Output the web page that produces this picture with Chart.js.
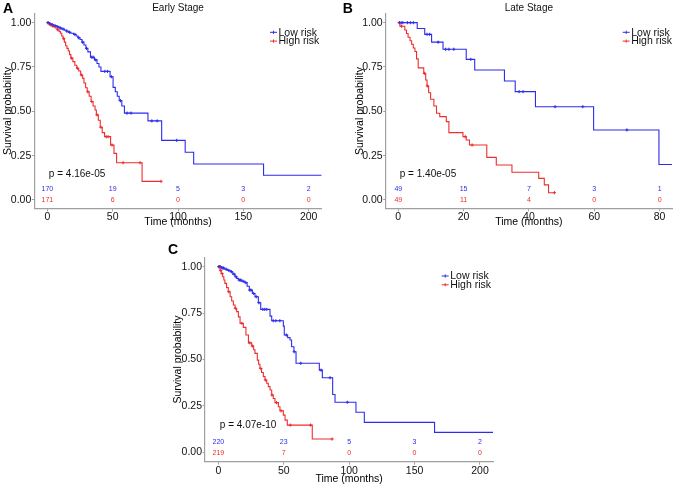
<!DOCTYPE html>
<html>
<head>
<meta charset="utf-8">
<script src="https://cdn.jsdelivr.net/npm/chart.js@4.4.0/dist/chart.umd.min.js"></script>
<style>
body { margin: 0; background: #fff; }
#wrap { position: relative; width: 677px; height: 485px; }
canvas { position: absolute; }
</style>
</head>
<body>
<div id="wrap">
  <canvas id="panelA" width="340" height="230" style="left:0;top:0"></canvas>
  <canvas id="panelB" width="337" height="230" style="left:340px;top:0"></canvas>
  <canvas id="panelC" width="350" height="245" style="left:160px;top:240px"></canvas>
</div>
<script>
// ---- data ----
const survTicks = [0, 0.25, 0.5, 0.75, 1];

// A: early stage
const earlyTicks = [0, 50, 100, 150, 200];
const earlyLowTime = [0, 1.5, 3, 5, 7.5, 9, 11, 13, 14.5, 16, 18, 20, 22, 23.5, 25, 26.5, 28, 29.5, 31, 33, 36, 38, 39.5, 41, 48, 50.3, 52, 53.5, 55, 57, 59, 77, 87.5, 105.5, 112, 165.5, 210];
const earlyLowSurv = [1, 0.994, 0.988, 0.982, 0.976, 0.97, 0.964, 0.958, 0.952, 0.946, 0.94, 0.934, 0.925, 0.915, 0.905, 0.89, 0.874, 0.855, 0.835, 0.805, 0.79, 0.77, 0.75, 0.725, 0.695, 0.635, 0.61, 0.585, 0.56, 0.53, 0.49, 0.446, 0.336, 0.269, 0.203, 0.139, 0.139];
const earlyLowCensor = [0.5, 2, 4, 6, 8, 10, 12, 15, 17, 21, 24, 27, 30, 34, 35, 37, 44, 46, 49, 56, 61, 64, 80, 84, 99];
const earlyHighTime = [0, 1, 2, 3.5, 5, 6, 7.5, 9, 10, 11, 12, 13, 14, 15, 16, 17, 18, 19.5, 21, 22.5, 24, 25.5, 27, 28, 29.3, 30.5, 32, 33.5, 35, 36.5, 37.5, 39, 40.5, 42, 43.8, 48.4, 51, 53, 72.5, 87];
const earlyHighSurv = [1, 0.994, 0.988, 0.982, 0.976, 0.97, 0.96, 0.95, 0.94, 0.925, 0.91, 0.89, 0.87, 0.855, 0.84, 0.82, 0.8, 0.78, 0.76, 0.743, 0.727, 0.705, 0.686, 0.66, 0.633, 0.61, 0.585, 0.555, 0.53, 0.507, 0.48, 0.45, 0.41, 0.38, 0.357, 0.31, 0.263, 0.21, 0.105, 0.105];
const earlyHighCensor = [0.5, 1.5, 2.5, 4, 8, 12.5, 18.5, 23, 26, 31, 34, 38, 41, 45, 46.5, 49.5, 58, 71, 87];
const earlyRiskLow = [170, 19, 5, 3, 2];
const earlyRiskHigh = [171, 6, 0, 0, 0];

// B: late stage
const lateTicks = [0, 20, 40, 60, 80];
const lateLowTime = [0, 5.8, 8.1, 10.2, 13.7, 20.8, 23.4, 32.5, 35.8, 42, 59.8, 79.8, 84];
const lateLowSurv = [1, 0.967, 0.934, 0.89, 0.85, 0.793, 0.733, 0.671, 0.611, 0.526, 0.395, 0.2, 0.2];
const lateLowCensor = [0.4, 0.9, 1.4, 2.8, 3.7, 4.6, 8.8, 9.6, 12.2, 14.5, 15.5, 17, 22.2, 37, 38.2, 48, 56.5, 70];
const lateHighTime = [0, 0.5, 2, 2.5, 3, 3.6, 4.1, 4.6, 5.1, 5.6, 6.1, 7.8, 8.4, 8.8, 9.3, 9.9, 10.9, 11.7, 12.7, 14.7, 15.5, 19.8, 20.8, 21.8, 27.1, 30, 34.8, 43, 44.7, 46, 47.8];
const lateHighSurv = [1, 0.98, 0.959, 0.939, 0.918, 0.898, 0.878, 0.857, 0.837, 0.796, 0.745, 0.714, 0.677, 0.643, 0.605, 0.568, 0.53, 0.489, 0.47, 0.442, 0.38, 0.357, 0.338, 0.31, 0.24, 0.197, 0.156, 0.122, 0.085, 0.041, 0.041];
const lateHighCensor = [0.3, 1, 8, 8.9, 20.5, 22.6, 47.8];
const lateRiskLow = [49, 15, 7, 3, 1];
const lateRiskHigh = [49, 11, 4, 0, 0];

// C: all stages
const allTicks = [0, 50, 100, 150, 200];
const allLowTime = [0, 2.5, 5, 7, 9, 11, 12.7, 14, 15.3, 18, 20.4, 22, 23.7, 26, 28, 30.6, 32.4, 39.5, 40.8, 49.7, 50.4, 53, 54.8, 56, 57.8, 59.4, 77.2, 79.5, 87.4, 89.2, 105.2, 111.6, 165.3, 210];
const allLowSurv = [1, 0.993, 0.986, 0.98, 0.973, 0.96, 0.946, 0.937, 0.928, 0.921, 0.914, 0.895, 0.874, 0.856, 0.838, 0.806, 0.77, 0.734, 0.709, 0.68, 0.632, 0.618, 0.605, 0.569, 0.542, 0.48, 0.443, 0.402, 0.312, 0.27, 0.216, 0.162, 0.108, 0.108];
const allLowCensor = [0.5, 1.5, 3, 4, 6, 8, 10, 12, 13.5, 16, 17, 19, 21, 24, 25, 27, 29, 31, 34, 35.5, 37, 42, 44, 47, 52, 58, 63, 78.5, 85.4, 98.6];
const allHighTime = [0, 1.3, 2.2, 3.3, 4.2, 5, 6.3, 7.6, 9, 10.2, 11.5, 12.8, 14, 15.3, 16.6, 19.1, 21.1, 23, 25.5, 27, 28, 29.8, 30.8, 31.8, 33, 34.4, 35.7, 37, 38.2, 39.5, 40.8, 42, 43.3, 45.9, 47.1, 49.7, 51, 52.7, 71.8, 87];
const allHighSurv = [1, 0.98, 0.963, 0.946, 0.928, 0.91, 0.887, 0.865, 0.838, 0.815, 0.794, 0.776, 0.758, 0.73, 0.695, 0.673, 0.632, 0.59, 0.573, 0.553, 0.533, 0.497, 0.475, 0.452, 0.43, 0.408, 0.39, 0.372, 0.354, 0.336, 0.309, 0.29, 0.268, 0.246, 0.224, 0.201, 0.174, 0.147, 0.072, 0.072];
const allHighCensor = [0.4, 0.8, 1.8, 2.8, 8, 13, 18, 24, 26, 32.5, 36, 41, 44.5, 48, 55, 70.5, 87];
const allRiskLow = [220, 23, 5, 3, 2];
const allRiskHigh = [219, 7, 0, 0, 0];

const BLUE = 'rgb(45,45,235)';
const RED = 'rgb(238,45,45)';
const AXIS = '#a0a0a0';
const FONT = '"Liberation Sans", Arial, sans-serif';

function survAt(t, times, surv) {
    let s = surv[0];
    for (let i = 0; i < times.length; i++) {
        if (times[i] <= t) s = surv[i];
    }
    return s;
}

function kmLine(times, surv, color) {
    return {
        data: times.map((t, i) => ({ x: t, y: surv[i] })),
        showLine: true,
        stepped: true,
        borderColor: color,
        borderWidth: 1.1,
        pointRadius: 0
    };
}

function censorPts(cens, times, surv, color) {
    return {
        data: cens.map(t => ({ x: t, y: survAt(t, times, surv) })),
        showLine: false,
        pointStyle: 'cross',
        pointRadius: 1.6,
        borderColor: color,
        borderWidth: 1
    };
}

const textPlugin = {
    id: 'panelText',
    afterDraw(chart, args, o) {
        const ctx = chart.ctx;
        const xs = chart.scales.x, ys = chart.scales.y, area = chart.chartArea;
        ctx.save();
        ctx.fillStyle = '#000';
        ctx.textBaseline = 'middle';

        ctx.font = 'bold 14px ' + FONT;
        ctx.textAlign = 'left';
        ctx.fillText(o.letter, o.letterX, o.letterY);

        if (o.title) {
            ctx.font = '10px ' + FONT;
            ctx.textAlign = 'center';
            ctx.fillStyle = '#111';
            ctx.fillText(o.title, (area.left + area.right) / 2, 8);
        }

        // p-value
        ctx.font = '10px ' + FONT;
        ctx.textAlign = 'left';
        ctx.fillStyle = '#111';
        ctx.fillText(o.pval, xs.getPixelForValue(0) + 1.5, ys.getPixelForValue(0.145));

        // numbers at risk
        ctx.font = '7px ' + FONT;
        ctx.textAlign = 'center';
        o.riskTimes.forEach((t, i) => {
            const px = xs.getPixelForValue(t);
            ctx.fillStyle = BLUE;
            ctx.fillText(String(o.riskLow[i]), px, ys.getPixelForValue(0) + o.riskLowOff);
            ctx.fillStyle = RED;
            ctx.fillText(String(o.riskHigh[i]), px, ys.getPixelForValue(0) + o.riskHighOff);
        });

        // legend
        [['Low risk', BLUE, o.legY], ['High risk', RED, o.legY + 8.8]].forEach(([label, color, ly]) => {
            ctx.strokeStyle = color;
            ctx.lineWidth = 1;
            ctx.beginPath();
            ctx.moveTo(o.legX, ly); ctx.lineTo(o.legX + 7, ly);
            ctx.moveTo(o.legX + 3.5, ly - 1.6); ctx.lineTo(o.legX + 3.5, ly + 1.6);
            ctx.stroke();
            ctx.fillStyle = '#111';
            ctx.font = '10.5px ' + FONT;
            ctx.textAlign = 'left';
            ctx.fillText(label, o.legX + 8.5, ly + 0.5);
        });
        ctx.restore();
    }
};

function makePanel(id, p) {
    const tickFont = { family: FONT, size: 10.5 };
    const titleFont = { family: FONT, size: 10.5 };
    new Chart(document.getElementById(id), {
        type: 'scatter',
        data: {
            datasets: [
                kmLine(p.lowTime, p.lowSurv, BLUE),
                kmLine(p.highTime, p.highSurv, RED),
                censorPts(p.lowCensor, p.lowTime, p.lowSurv, BLUE),
                censorPts(p.highCensor, p.highTime, p.highSurv, RED)
            ]
        },
        options: {
            responsive: false,
            animation: false,
            devicePixelRatio: 1,
            layout: { padding: p.pad },
            plugins: {
                legend: { display: false },
                tooltip: { enabled: false },
                panelText: p.text
            },
            scales: {
                x: {
                    type: 'linear',
                    min: p.xMin,
                    max: p.xMax,
                    afterBuildTicks: s => { s.ticks = p.xTicks.map(v => ({ value: v })); },
                    afterFit: s => { s.height = p.xHeight; },
                    border: { color: AXIS, width: 1.2 },
                    grid: { drawOnChartArea: false, color: AXIS, tickLength: 3 },
                    ticks: { font: tickFont, color: '#111', padding: 0, maxRotation: 0 },
                    title: { display: true, text: 'Time (months)', font: titleFont, color: '#000', padding: { top: 0, bottom: p.xTitlePad } }
                },
                y: {
                    type: 'linear',
                    min: p.yMin,
                    max: 1.05,
                    afterBuildTicks: s => { s.ticks = survTicks.map(v => ({ value: v })); },
                    afterFit: s => { s.width = p.yWidth; },
                    border: { color: AXIS, width: 1.2 },
                    grid: { drawOnChartArea: false, color: AXIS, tickLength: 2.5 },
                    ticks: { font: tickFont, color: '#111', padding: 0.5, callback: v => v.toFixed(2) },
                    title: { display: true, text: 'Survival probability', font: titleFont, color: '#000', padding: { top: p.yTitlePad, bottom: 0 } }
                }
            }
        },
        plugins: [textPlugin]
    });
}

makePanel('panelA', {
    lowTime: earlyLowTime, lowSurv: earlyLowSurv, lowCensor: earlyLowCensor,
    highTime: earlyHighTime, highSurv: earlyHighSurv, highCensor: earlyHighCensor,
    xTicks: earlyTicks, xMin: -10, xMax: 210, yMin: -0.047,
    pad: { left: 0, right: 18.3, top: 13.8, bottom: 0 },
    xHeight: 21.7, yWidth: 34.3, xTitlePad: 1.5, yTitlePad: 2,
    text: {
        letter: 'A', letterX: 3, letterY: 9, title: 'Early Stage', pval: 'p = 4.16e-05',
        riskTimes: earlyTicks, riskLow: earlyRiskLow, riskHigh: earlyRiskHigh,
        riskLowOff: -11, riskHighOff: 0.3, legX: 270, legY: 32.3
    }
});

makePanel('panelB', {
    lowTime: lateLowTime, lowSurv: lateLowSurv, lowCensor: lateLowCensor,
    highTime: lateHighTime, highSurv: lateHighSurv, highCensor: lateHighCensor,
    xTicks: lateTicks, xMin: -3.85, xMax: 83.8, yMin: -0.047,
    pad: { left: 0, right: 3.7, top: 13.8, bottom: 0 },
    xHeight: 21.7, yWidth: 45.7, xTitlePad: 1.5, yTitlePad: 14,
    text: {
        letter: 'B', letterX: 2.7, letterY: 8.8, title: 'Late Stage', pval: 'p = 1.40e-05',
        riskTimes: lateTicks, riskLow: lateRiskLow, riskHigh: lateRiskHigh,
        riskLowOff: -11, riskHighOff: 0.3, legX: 282.7, legY: 32.3
    }
});

makePanel('panelC', {
    lowTime: allLowTime, lowSurv: allLowSurv, lowCensor: allLowCensor,
    highTime: allHighTime, highSurv: allHighSurv, highCensor: allHighCensor,
    xTicks: allTicks, xMin: -10.2, xMax: 210.2, yMin: -0.05,
    pad: { left: 0, right: 16.7, top: 17.4, bottom: 0 },
    xHeight: 23.3, yWidth: 45, xTitlePad: 0, yTitlePad: 12.3,
    text: {
        letter: 'C', letterX: 8, letterY: 10, title: '', pval: 'p = 4.07e-10',
        riskTimes: allTicks, riskLow: allRiskLow, riskHigh: allRiskHigh,
        riskLowOff: -10.6, riskHighOff: 1, legX: 281.7, legY: 36
    }
});
</script>
</body>
</html>
